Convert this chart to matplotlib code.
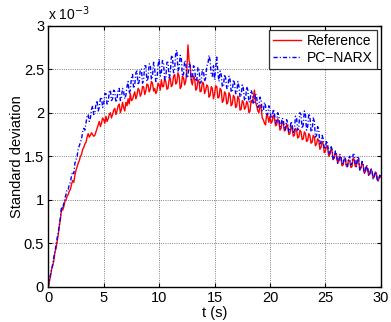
import numpy as np
import matplotlib
matplotlib.use("Agg")
import matplotlib.pyplot as plt
from matplotlib.ticker import FuncFormatter

plt.rcParams['font.family'] = ['Liberation Sans', 'DejaVu Sans']

# time axis, 0.1 s step
t = np.arange(0, 30.0001, 0.1)

# standard deviation, units of 1e-3 (one row = one second)
reference = [
    0.00, 0.06, 0.12, 0.20, 0.24, 0.30, 0.40, 0.44, 0.52, 0.60,
    0.70, 0.78, 0.90, 0.88, 0.92, 0.98, 1.00, 1.04, 1.06, 1.10,
    1.12, 1.18, 1.22, 1.20, 1.28, 1.34, 1.38, 1.42, 1.45, 1.50,
    1.52, 1.58, 1.60, 1.64, 1.66, 1.72, 1.76, 1.72, 1.74, 1.77,
    1.75, 1.73, 1.74, 1.78, 1.82, 1.86, 1.90, 1.84, 1.88, 1.94,
    1.92, 1.88, 1.96, 1.90, 1.93, 1.98, 2.00, 1.94, 1.98, 2.03,
    2.05, 1.98, 2.02, 2.08, 2.10, 2.00, 2.04, 2.12, 2.06, 2.02,
    2.12, 2.08, 2.16, 2.10, 2.22, 2.14, 2.15, 2.20, 2.24, 2.16,
    2.20, 2.28, 2.26, 2.19, 2.22, 2.30, 2.30, 2.21, 2.25, 2.33,
    2.32, 2.24, 2.27, 2.36, 2.34, 2.25, 2.28, 2.22, 2.25, 2.34,
    2.32, 2.26, 2.38, 2.30, 2.30, 2.40, 2.36, 2.27, 2.28, 2.38,
    2.40, 2.30, 2.32, 2.42, 2.44, 2.33, 2.35, 2.46, 2.42, 2.28,
    2.30, 2.42, 2.40, 2.32, 2.36, 2.50, 2.78, 2.60, 2.55, 2.36,
    2.32, 2.42, 2.40, 2.26, 2.28, 2.38, 2.36, 2.24, 2.25, 2.35,
    2.34, 2.22, 2.26, 2.32, 2.30, 2.18, 2.20, 2.30, 2.28, 2.16,
    2.22, 2.31, 2.30, 2.17, 2.18, 2.28, 2.26, 2.12, 2.14, 2.24,
    2.22, 2.10, 2.12, 2.23, 2.20, 2.08, 2.10, 2.20, 2.18, 2.06,
    2.08, 2.19, 2.16, 2.03, 2.04, 2.14, 2.12, 2.04, 2.06, 2.13,
    2.10, 2.00, 2.02, 2.14, 2.12, 2.18, 2.26, 2.12, 2.08, 2.02,
    2.00, 2.09, 2.06, 1.94, 1.92, 1.88, 1.86, 1.98, 1.96, 1.89,
    1.96, 1.88, 1.90, 1.97, 1.94, 1.85, 1.86, 1.93, 1.90, 1.80,
    1.82, 1.90, 1.88, 1.79, 1.80, 1.87, 1.84, 1.75, 1.76, 1.84,
    1.82, 1.73, 1.74, 1.82, 1.80, 1.71, 1.72, 1.80, 1.78, 1.69,
    1.70, 1.78, 1.76, 1.67, 1.68, 1.76, 1.74, 1.65, 1.66, 1.74,
    1.72, 1.62, 1.64, 1.70, 1.68, 1.58, 1.60, 1.67, 1.64, 1.54,
    1.56, 1.62, 1.60, 1.50, 1.52, 1.58, 1.56, 1.46, 1.48, 1.54,
    1.52, 1.42, 1.44, 1.50, 1.48, 1.39, 1.40, 1.47, 1.46, 1.38,
    1.40, 1.46, 1.44, 1.37, 1.38, 1.48, 1.46, 1.38, 1.40, 1.46,
    1.44, 1.35, 1.36, 1.42, 1.40, 1.31, 1.32, 1.38, 1.36, 1.28,
    1.30, 1.35, 1.33, 1.25, 1.26, 1.32, 1.30, 1.22, 1.23, 1.28,
    1.26,
]

pc_narx = [
    0.00, 0.08, 0.14, 0.20, 0.26, 0.34, 0.40, 0.48, 0.56, 0.62,
    0.72, 0.80, 0.92, 0.90, 0.96, 1.02, 1.06, 1.12, 1.12, 1.18,
    1.20, 1.28, 1.32, 1.30, 1.42, 1.46, 1.50, 1.58, 1.62, 1.66,
    1.70, 1.78, 1.82, 1.80, 1.88, 1.96, 1.98, 1.90, 1.94, 2.04,
    2.08, 1.98, 2.00, 2.10, 2.14, 2.02, 2.06, 2.16, 2.18, 2.06,
    2.10, 2.22, 2.22, 2.10, 2.12, 2.24, 2.26, 2.14, 2.16, 2.26,
    2.24, 2.12, 2.16, 2.26, 2.28, 2.14, 2.18, 2.28, 2.24, 2.16,
    2.20, 2.30, 2.36, 2.22, 2.26, 2.40, 2.44, 2.28, 2.32, 2.46,
    2.48, 2.32, 2.36, 2.50, 2.50, 2.34, 2.38, 2.54, 2.54, 2.36,
    2.40, 2.56, 2.56, 2.38, 2.42, 2.58, 2.50, 2.36, 2.38, 2.54,
    2.62, 2.42, 2.46, 2.60, 2.56, 2.38, 2.40, 2.58, 2.58, 2.40,
    2.44, 2.64, 2.66, 2.46, 2.50, 2.70, 2.72, 2.48, 2.52, 2.66,
    2.62, 2.42, 2.44, 2.60, 2.58, 2.40, 2.42, 2.56, 2.54, 2.38,
    2.40, 2.54, 2.52, 2.36, 2.38, 2.52, 2.50, 2.34, 2.36, 2.50,
    2.48, 2.36, 2.40, 2.54, 2.56, 2.66, 2.60, 2.44, 2.42, 2.54,
    2.38, 2.52, 2.64, 2.46, 2.36, 2.48, 2.44, 2.30, 2.30, 2.44,
    2.40, 2.28, 2.28, 2.42, 2.38, 2.24, 2.24, 2.38, 2.34, 2.22,
    2.22, 2.36, 2.30, 2.18, 2.20, 2.32, 2.28, 2.14, 2.16, 2.30,
    2.26, 2.12, 2.14, 2.26, 2.22, 2.10, 2.12, 2.22, 2.18, 2.06,
    2.08, 2.18, 2.14, 2.02, 2.02, 2.12, 2.08, 1.98, 1.98, 2.08,
    2.04, 1.94, 1.94, 2.04, 2.00, 1.88, 1.90, 2.00, 1.96, 1.84,
    1.86, 1.94, 1.92, 1.80, 1.82, 1.92, 1.88, 1.78, 1.80, 1.90,
    1.86, 1.76, 1.80, 1.96, 1.94, 1.80, 1.84, 2.00, 1.98, 1.82,
    1.86, 2.02, 1.98, 1.80, 1.84, 1.99, 1.96, 1.78, 1.80, 1.94,
    1.90, 1.72, 1.74, 1.84, 1.80, 1.64, 1.66, 1.74, 1.70, 1.58,
    1.60, 1.68, 1.64, 1.52, 1.54, 1.62, 1.58, 1.46, 1.48, 1.56,
    1.52, 1.42, 1.44, 1.52, 1.50, 1.40, 1.42, 1.50, 1.48, 1.38,
    1.38, 1.48, 1.50, 1.40, 1.42, 1.52, 1.52, 1.40, 1.38, 1.50,
    1.48, 1.34, 1.36, 1.44, 1.42, 1.30, 1.32, 1.40, 1.38, 1.28,
    1.28, 1.36, 1.34, 1.24, 1.26, 1.32, 1.30, 1.21, 1.22, 1.28,
    1.26,
]

fig = plt.figure(figsize=(3.91, 3.22), dpi=100)
ax = fig.add_axes([0.1235, 0.1096, 0.8505, 0.8104])

ax.plot(t, reference, color='#ff0000', lw=1.0, label='Reference')
ax.plot(t, pc_narx, color='#0000ff', lw=1.0, ls=(0, (3, 1.5, 0.8, 1.5)),
        label='PC\u2212NARX')

ax.set_xlim(0, 30)
ax.set_ylim(0, 3)
ax.set_xticks(np.arange(0, 31, 5))
ax.set_yticks(np.arange(0, 3.01, 0.5))
ax.yaxis.set_major_formatter(FuncFormatter(lambda v, p: f'{v:g}'))
ax.tick_params(direction='in', length=3, width=0.8, top=True, right=True,
               labelsize=10.5, pad=3)
ax.grid(True, ls=':', lw=0.6, color='#555555')
for s in ax.spines.values():
    s.set_linewidth(1.0)

ax.text(0.0, 1.012, 'x 10$^{-3}$', transform=ax.transAxes,
        fontsize=10, ha='left', va='bottom')

ax.set_xlabel('t (s)', fontsize=10.5, labelpad=1)
ax.set_ylabel('Standard deviation', fontsize=10.5, labelpad=0)

leg = ax.legend(loc='upper right', fontsize=10, frameon=True, fancybox=False,
                borderaxespad=0.3, handlelength=2.0, handletextpad=0.4,
                borderpad=0.3, labelspacing=0.2)
leg.get_frame().set_edgecolor('black')
leg.get_frame().set_linewidth(0.9)

fig.savefig('out.png', dpi=100)
